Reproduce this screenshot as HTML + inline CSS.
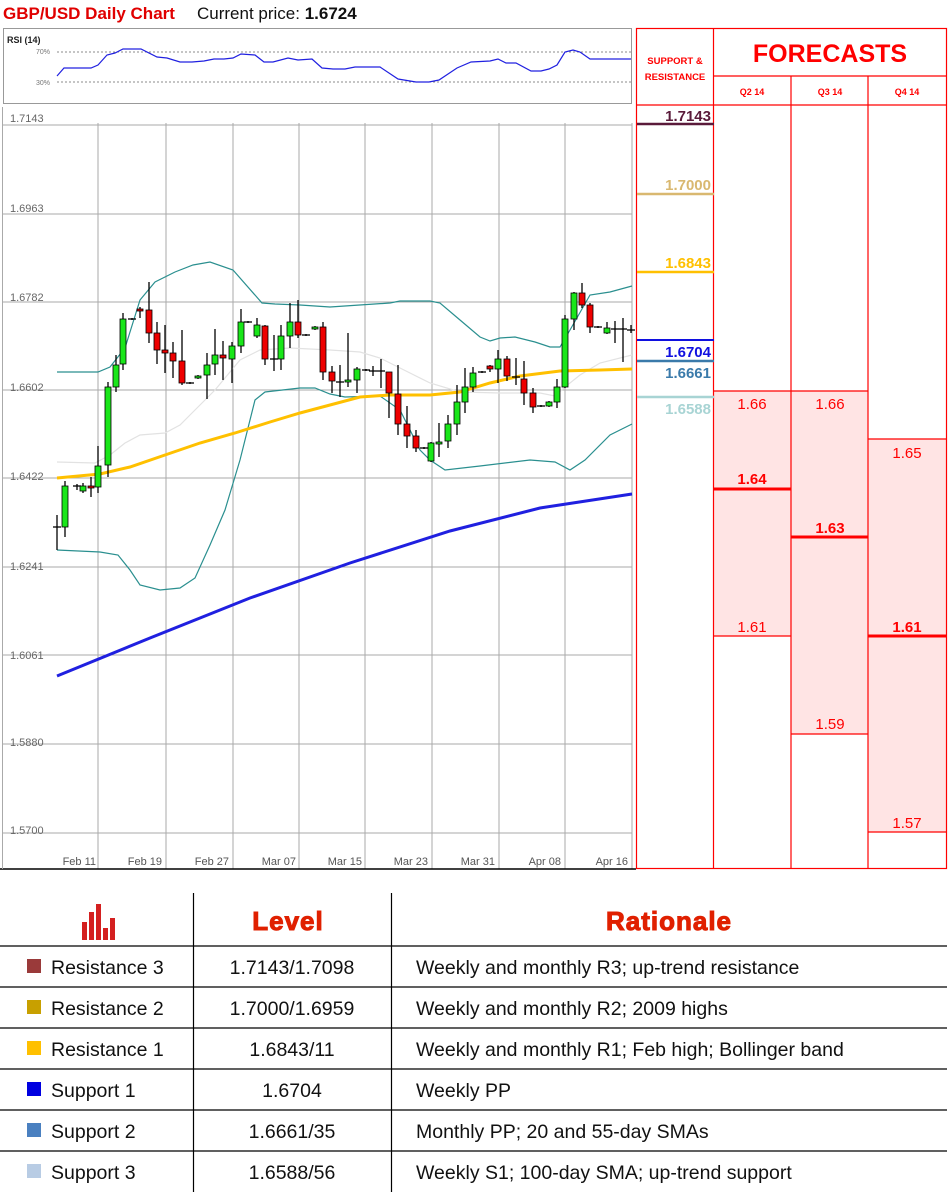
<!DOCTYPE html>
<html><head><meta charset="utf-8">
<style>
body{margin:0;background:#fff;width:949px;height:1192px;overflow:hidden;font-family:"Liberation Sans",sans-serif;}
svg{position:absolute;left:0;top:0}
</style></head>
<body>
<svg id="s" width="949" height="1192" viewBox="0 0 949 1192" xmlns="http://www.w3.org/2000/svg" font-family="Liberation Sans, sans-serif">
<text x="3" y="19" font-size="17" font-weight="bold" fill="#e00000">GBP/USD Daily Chart</text>
<text x="197" y="19" font-size="17" fill="#111">Current price: <tspan font-weight="bold">1.6724</tspan></text>
<!-- RSI box -->
<rect x="3.5" y="28.5" width="628" height="75" fill="#fff" stroke="#999"/>
<text x="7" y="43" font-size="9" font-weight="bold" fill="#222">RSI (14)</text>
<text x="36" y="54" font-size="7" fill="#777">70%</text>
<text x="36" y="85" font-size="7" fill="#777">30%</text>
<line x1="57" y1="52" x2="631" y2="52" stroke="#666" stroke-dasharray="2,2" stroke-width="0.8"/>
<line x1="57" y1="82" x2="631" y2="82" stroke="#666" stroke-dasharray="2,2" stroke-width="0.8"/>
<polyline fill="none" stroke="#2020e0" stroke-width="1.2" points="57,76 64,68 91,68 98,65 107,55 115,53 123,49 141,49 157,57 167,58 180,62 192,62 204,61 214,59 224,59 233,58 241,54 255,55 264,62 273,62 288,58 298,60 312,59 322,68 333,69 345,69 355,67 380,67 398,79 416,82 429,82 439,80 457,68 471,62 490,61 498,59 506,63 516,63 531,71 541,71 549,69 557,65 565,52 573,50 580,52 590,59 612,59 631,59"/>
<!-- main chart -->
<g id="grid" stroke="#aaa" stroke-width="1"></g>
<g font-size="11" fill="#666">
<text x="10" y="122">1.7143</text>
<text x="10" y="212">1.6963</text>
<text x="10" y="301">1.6782</text>
<text x="10" y="391">1.6602</text>
<text x="10" y="480">1.6422</text>
<text x="10" y="570">1.6241</text>
<text x="10" y="659">1.6061</text>
<text x="10" y="746">1.5880</text>
<text x="10" y="834">1.5700</text>
</g>
<g font-size="11" fill="#555" text-anchor="end">
<text x="96" y="865">Feb 11</text><text x="162" y="865">Feb 19</text><text x="229" y="865">Feb 27</text>
<text x="296" y="865">Mar 07</text><text x="362" y="865">Mar 15</text><text x="428" y="865">Mar 23</text>
<text x="495" y="865">Mar 31</text><text x="561" y="865">Apr 08</text><text x="628" y="865">Apr 16</text>
</g>
<line x1="0" y1="869" x2="636" y2="869" stroke="#000" stroke-width="1.5"/>
<line x1="2.5" y1="107" x2="2.5" y2="869" stroke="#aaa"/>
<polyline fill="none" stroke="#2a8f8f" stroke-width="1.2" points="57,372 98,372 110,367 125,348 140,300 155,282 175,272 193,265 210,262 233,270 262,303 275,304 300,305 330,307 390,303 400,301 430,301 440,303 460,320 480,337 490,341 500,338 515,337 535,342 550,347 560,347 570,330 590,295 610,292 632,286"/>
<polyline fill="none" stroke="#2a8f8f" stroke-width="1.2" points="57,550 100,552 118,555 130,570 140,585 160,590 180,588 195,578 210,545 225,510 240,460 255,400 265,392 300,388 315,388 330,394 345,397 380,396 400,410 420,450 430,460 445,470 480,466 530,460 555,462 570,470 585,460 610,435 632,424"/>
<polyline fill="none" stroke="#e2e2e2" stroke-width="1.2" points="57,462 95,463 110,455 125,443 140,435 165,433 180,425 200,405 215,390 240,360 260,350 290,348 330,350 360,352 380,358 400,368 430,383 460,392 500,393 540,393 555,396 565,387 580,375 600,363 632,355"/>
<polyline fill="none" stroke="#ffc000" stroke-width="3" points="57,478 100,474 130,467 165,455 200,443 235,433 270,422 300,413 330,405 360,397 390,395 430,395 460,392 490,383 520,376 560,371 600,370 632,369"/>
<polyline fill="none" stroke="#2020e0" stroke-width="3" points="57,676 150,638 250,598 350,563 450,531 540,508 632,494"/>
<g id="candles"></g>
<!-- right panel -->
<rect x="714" y="391" width="77" height="245" fill="#ffe4e4"/>
<rect x="791" y="391" width="77" height="343" fill="#ffe4e4"/>
<rect x="868" y="439" width="78" height="393" fill="#ffe4e4"/>
<g stroke="#ff0000" stroke-width="1.2" fill="none">
<rect x="636.5" y="28.5" width="310" height="840"/>
<line x1="713.5" y1="28" x2="713.5" y2="869"/>
<line x1="791" y1="76" x2="791" y2="869"/>
<line x1="868" y1="76" x2="868" y2="869"/>
<line x1="713" y1="76" x2="947" y2="76"/>
<line x1="636" y1="105" x2="947" y2="105"/>
<line x1="714" y1="391" x2="868" y2="391"/>
<line x1="714" y1="636" x2="791" y2="636"/>
<line x1="791" y1="734" x2="868" y2="734"/>
<line x1="868" y1="439" x2="947" y2="439"/>
<line x1="868" y1="832" x2="947" y2="832"/>
</g>
<g stroke="#ff0000" stroke-width="3">
<line x1="714" y1="489" x2="791" y2="489"/>
<line x1="791" y1="537" x2="868" y2="537"/>
<line x1="868" y1="636" x2="947" y2="636"/>
</g>
<g fill="#ff0000" font-weight="bold" text-anchor="middle">
<text x="675" y="64" font-size="9.5">SUPPORT &amp;</text>
<text x="675" y="80" font-size="9.5">RESISTANCE</text>
<text x="830" y="62" font-size="25">FORECASTS</text>
<text x="752" y="95" font-size="9">Q2 14</text>
<text x="830" y="95" font-size="9">Q3 14</text>
<text x="907" y="95" font-size="9">Q4 14</text>
</g>
<g fill="#ff0000" font-size="15" text-anchor="middle">
<text x="752" y="409">1.66</text><text x="830" y="409">1.66</text><text x="907" y="458">1.65</text>
<text x="752" y="484" font-weight="bold">1.64</text><text x="830" y="533" font-weight="bold">1.63</text><text x="907" y="632" font-weight="bold">1.61</text>
<text x="752" y="632">1.61</text><text x="830" y="729">1.59</text><text x="907" y="828">1.57</text>
</g>
<g font-size="15" font-weight="bold" text-anchor="end">
<line x1="637" y1="124" x2="714" y2="124" stroke="#5a1a3a" stroke-width="2.5"/>
<text x="711" y="121" fill="#5a1a3a">1.7143</text>
<line x1="637" y1="194" x2="714" y2="194" stroke="#d9b870" stroke-width="2.5"/>
<text x="711" y="190" fill="#d9b870">1.7000</text>
<line x1="637" y1="272" x2="714" y2="272" stroke="#ffc000" stroke-width="2.5"/>
<text x="711" y="268" fill="#ffc000">1.6843</text>
<line x1="637" y1="340" x2="714" y2="340" stroke="#1010e0" stroke-width="2"/>
<text x="711" y="357" fill="#1010e0">1.6704</text>
<line x1="637" y1="361" x2="714" y2="361" stroke="#3a7aaa" stroke-width="2.5"/>
<text x="711" y="378" fill="#3a7aaa">1.6661</text>
<line x1="637" y1="397" x2="714" y2="397" stroke="#a8d4d4" stroke-width="2.5"/>
<text x="711" y="414" fill="#a8d4d4">1.6588</text>
</g>
<!-- bottom table -->
<g fill="#d42020"><rect x="82" y="922" width="5" height="18"/><rect x="89" y="912" width="5" height="28"/><rect x="96" y="904" width="5" height="36"/><rect x="103" y="928" width="5" height="12"/><rect x="110" y="918" width="5" height="22"/></g>
<g stroke="#000" stroke-width="1.2">
<line x1="193.5" y1="893" x2="193.5" y2="1192"/>
<line x1="391.5" y1="893" x2="391.5" y2="1192"/>
<line x1="0" y1="946" x2="947" y2="946"/>
<line x1="0" y1="987" x2="947" y2="987"/>
<line x1="0" y1="1028" x2="947" y2="1028"/>
<line x1="0" y1="1069" x2="947" y2="1069"/>
<line x1="0" y1="1110" x2="947" y2="1110"/>
<line x1="0" y1="1151" x2="947" y2="1151"/>
</g>
<g fill="#e02000" stroke="#e02000" stroke-width="1" font-size="26" font-weight="bold" text-anchor="middle" letter-spacing="1">
<text x="288" y="930">Level</text><text x="669" y="930">Rationale</text>
</g>
<rect x="27" y="959" width="14" height="14" fill="#9a3a3a"/>
<rect x="27" y="1000" width="14" height="14" fill="#c8a000"/>
<rect x="27" y="1041" width="14" height="14" fill="#ffc000"/>
<rect x="27" y="1082" width="14" height="14" fill="#0000e0"/>
<rect x="27" y="1123" width="14" height="14" fill="#4a80c0"/>
<rect x="27" y="1164" width="14" height="14" fill="#b8cce4"/>
<g font-size="19.5" fill="#111">
<text x="51" y="974">Resistance 3</text><text x="51" y="1015">Resistance 2</text><text x="51" y="1056">Resistance 1</text>
<text x="51" y="1097">Support 1</text><text x="51" y="1138">Support 2</text><text x="51" y="1179">Support 3</text>
<g text-anchor="middle">
<text x="292" y="974">1.7143/1.7098</text><text x="292" y="1015">1.7000/1.6959</text><text x="292" y="1056">1.6843/11</text>
<text x="292" y="1097">1.6704</text><text x="292" y="1138">1.6661/35</text><text x="292" y="1179">1.6588/56</text>
</g>
<text x="416" y="974">Weekly and monthly R3; up-trend resistance</text>
<text x="416" y="1015">Weekly and monthly R2; 2009 highs</text>
<text x="416" y="1056">Weekly and monthly R1; Feb high; Bollinger band</text>
<text x="416" y="1097">Weekly PP</text>
<text x="416" y="1138">Monthly PP; 20 and 55-day SMAs</text>
<text x="416" y="1179">Weekly S1; 100-day SMA; up-trend support</text>
</g>
</svg>
<script>
var NS="http://www.w3.org/2000/svg";
function el(p,t,a){var e=document.createElementNS(NS,t);for(var k in a)e.setAttribute(k,a[k]);p.appendChild(e);return e;}
var g=document.getElementById("grid");
[125,214,302,390,478,567,655,744,833].forEach(function(y){el(g,"line",{x1:3,y1:y,x2:632,y2:y});});
[98,166,233,299,365,432,499,565,632].forEach(function(x){el(g,"line",{x1:x,y1:123,x2:x,y2:869});});
var C=[[57,527,527,515,550,'d'],[65,486,527,481,537,'g'],[77,486,486,484,490,'d'],[83,486,491,483,493,'g'],[91,486,488,477,497,'r'],[98,466,487,446,493,'g'],[108,387,465,382,477,'g'],[116,365,387,355,392,'g'],[123,319,364,313,370,'g'],[132,319,319,318,320,'d'],[140,309,311,307,318,'r'],[149,310,333,282,343,'r'],[157,333,350,322,364,'r'],[165,350,353,325,373,'r'],[173,353,361,342,378,'r'],[182,361,383,330,385,'r'],[190,383,383,382,384,'d'],[198,376,378,375,379,'g'],[207,365,375,353,399,'g'],[215,355,364,329,375,'g'],[223,355,358,341,380,'r'],[232,346,359,342,383,'g'],[241,322,346,309,353,'g'],[248,322,322,321,323,'d'],[257,325,336,318,338,'g'],[265,326,359,325,365,'r'],[274,359,359,335,371,'d'],[281,336,359,325,370,'g'],[290,322,336,303,348,'g'],[298,322,335,300,338,'r'],[306,335,335,334,336,'d'],[315,327,329,326,330,'g'],[323,327,372,322,380,'r'],[332,372,381,366,393,'r'],[340,382,382,365,397,'d'],[348,380,382,333,387,'g'],[357,369,380,367,393,'g'],[366,370,370,369,371,'d'],[373,371,371,366,376,'d'],[381,371,371,359,388,'d'],[389,372,393,372,418,'r'],[398,394,424,365,435,'r'],[407,424,436,406,448,'r'],[416,436,448,430,452,'r'],[424,448,448,447,449,'d'],[431,443,461,442,462,'g'],[439,442,443,423,457,'g'],[448,424,441,415,448,'g'],[457,402,424,385,435,'g'],[465,387,402,368,413,'g'],[473,373,387,367,392,'g'],[482,372,372,371,373,'d'],[490,366,369,365,372,'r'],[498,359,369,350,383,'g'],[507,359,376,356,381,'r'],[516,377,377,358,385,'d'],[524,379,393,361,405,'r'],[533,393,407,388,413,'r'],[541,406,406,405,407,'d'],[549,402,406,401,407,'g'],[557,387,402,379,408,'g'],[565,319,387,315,388,'g'],[574,293,319,292,330,'g'],[582,293,305,283,308,'r'],[590,305,327,303,333,'r'],[598,327,327,326,328,'d'],[607,328,333,322,334,'g'],[615,329,329,321,343,'d'],[623,329,329,318,362,'d'],[631,330,330,325,333,'d']];
var cg=document.getElementById("candles");
C.forEach(function(c){
 el(cg,"line",{x1:c[0],y1:c[3],x2:c[0],y2:c[4],stroke:"#000","stroke-width":1.3});
 if(c[5]=='d'){el(cg,"line",{x1:c[0]-4,y1:c[1],x2:c[0]+4,y2:c[1],stroke:"#000","stroke-width":1.3});}
 else{var h=Math.max(c[2]-c[1],2);el(cg,"rect",{x:c[0]-3,y:c[1],width:6,height:h,fill:c[5]=='g'?"#19e619":"#ee0000",stroke:"#000","stroke-width":0.8});}
});
</script>
</body></html>
